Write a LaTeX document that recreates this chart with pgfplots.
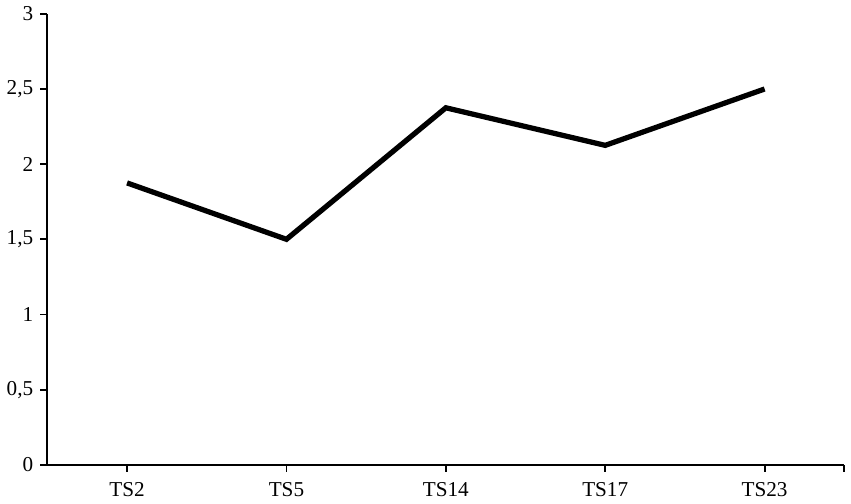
\documentclass[border=0pt]{standalone}
\usepackage{fontspec}
\setmainfont{Liberation Serif}
\usepackage{pgfplots}
\pgfplotsset{compat=1.18}

\begin{document}
\begin{tikzpicture}
\begin{axis}[
  scale only axis,
  width=395pt, height=223.5pt,
  xmin=-0.5, xmax=4.5, ymin=0, ymax=3,
  axis x line*=bottom, axis y line*=left,
  axis line style={line width=0.9pt},
  xtick={0,1,2,3,4},
  xticklabels={TS2,TS5,TS14,TS17,TS23},
  extra x ticks={4.5}, extra x tick labels={},
  ytick={0,0.5,...,3},
  tick align=outside, major tick length=3.5pt,
  tick style={line width=0.9pt, black},
  /pgf/number format/use comma,
  /pgf/number format/assume math mode=true,
  ticklabel style={font=\fontsize{10.5}{12}\selectfont},
  xticklabel style={yshift=-2pt},
]
\addplot[black, line width=2.6pt, line join=miter, mark=none]
  coordinates {(0,1.875)(1,1.5)(2,2.375)(3,2.125)(4,2.5)};
\end{axis}
\end{tikzpicture}
\end{document}
